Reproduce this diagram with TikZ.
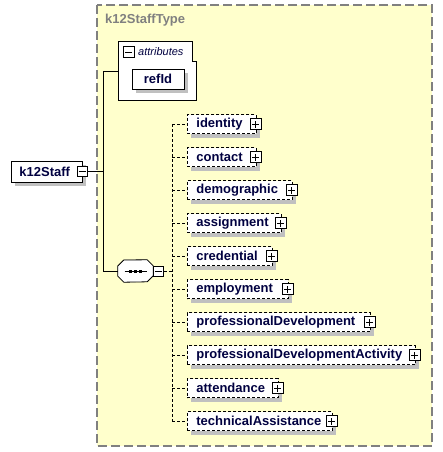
\documentclass[tikz,border=0pt]{standalone}
\usepackage{fontspec}
\setmainfont{Liberation Sans}
\usepackage{tikz}
\usetikzlibrary{positioning,shadows,calc}

\definecolor{typefill}{RGB}{255,255,204}
\definecolor{typeline}{RGB}{128,128,128}
\definecolor{elemtext}{RGB}{0,0,64}
\definecolor{shade}{RGB}{192,192,192}

\tikzset{
    boxshadow/.style={drop shadow={shadow xshift=4pt, shadow yshift=-4pt, fill=shade, opacity=1}},
    elem/.style={draw, fill=white, font=\fontsize{13}{15}\selectfont\bfseries, text=elemtext,
        minimum height=19pt, inner ysep=0pt, line width=0.8pt, boxshadow},
    optelem/.style={elem, dashed, dash pattern=on 3pt off 2pt},
    togglebox/.style={draw, fill=white, minimum size=10pt, inner sep=0pt, line width=0.8pt},
    plusbox/.style={togglebox, path picture={
        \draw[line width=0.8pt] ([xshift=-3.5pt]path picture bounding box.center) -- ([xshift=3.5pt]path picture bounding box.center);
        \draw[line width=0.8pt] ([yshift=-3.5pt]path picture bounding box.center) -- ([yshift=3.5pt]path picture bounding box.center);}},
    minusbox/.style={togglebox, path picture={
        \draw[line width=0.8pt] ([xshift=-3.5pt]path picture bounding box.center) -- ([xshift=3.5pt]path picture bounding box.center);}},
    link/.style={line width=0.8pt},
    optlink/.style={link, dash pattern=on 3pt off 2pt}
}

\begin{document}
\begin{tikzpicture}[x=1pt, y=-1pt]
    \useasboundingbox (0,0) rectangle (443,452);

    % Complex type frame
    \draw[typeline, fill=typefill, line width=2pt, dash pattern=on 9pt off 4pt] (97,5) rectangle (432,446);
    \node[anchor=west, text=typeline, font=\fontsize{13}{15}\selectfont\bfseries, inner sep=0pt] (typename) at (105,20) {k12StaffType};

    % Root element
    \node[elem, anchor=west, minimum height=21pt, inner xsep=8pt, text width=55pt] (root) at (11,171.5) {k12Staff};
    \node[minusbox] (rootminus) at (82,171.5) {};

    % Attributes group
    \node[anchor=north west, minimum width=78pt, minimum height=59pt, inner sep=0pt] (attrs) at (118,41) {};
    \draw[link, fill=white] (attrs.north west) -- ($(attrs.north east)+(-4,0)$) -- ($(attrs.north east)+(-4,20)$)
        -- ($(attrs.north east)+(0,20)$) -- (attrs.south east) -- (attrs.south west) -- cycle;
    \node[minusbox, minimum size=11pt] (attrminus) at (128.5,52) {};
    \node[anchor=west, inner sep=0pt, font=\fontsize{11}{13}\selectfont\itshape, text=elemtext] (attrlabel) at (138,52) {attributes};
    \node[elem, minimum width=52pt, minimum height=20pt] (refId) at (158,79) {refId};

    % Sequence compositor
    \node[minimum width=35pt, minimum height=22pt, inner sep=0pt] (seq) at (135.5,271) {};
    \fill[shade, shift={(4,4)}] (seq.west) -- ++(0,-5) -- ++(6,-6) -- ($(seq.north east)+(-6,0)$) -- ++(6,6) -- ++(0,10)
        -- ++(-6,6) -- ($(seq.south west)+(6,0)$) -- ++(-6,-6) -- cycle;
    \draw[link, fill=white] (seq.west) -- ++(0,-5) -- ++(6,-6) -- ($(seq.north east)+(-6,0)$) -- ++(6,6) -- ++(0,10)
        -- ++(-6,6) -- ($(seq.south west)+(6,0)$) -- ++(-6,-6) -- cycle;
    \draw[link] ($(seq.center)+(-11,0)$) -- ($(seq.center)+(11,0)$);
    \foreach \dx in {-5,0,5}
        \fill ($(seq.center)+(\dx-1.8,-1.5)$) rectangle ++(3.6,3);
    \node[minusbox] (seqminus) at (158.5,271) {};

    % Trunk from root
    \coordinate (trunk) at (103,171.5);
    \draw[link] (rootminus.east) -- (trunk);
    \draw[link] (trunk |- 0,71) -- (trunk |- seq.west);
    \draw[link] (trunk |- 0,71) -- (attrs.west |- 0,71);
    \draw[link] (trunk |- seq.west) -- (seq.west);

    % Child elements
    \foreach \nm/\w [count=\i] in {identity/69, contact/69, demographic/105, assignment/94, credential/85,
        employment/101, professionalDevelopment/183, professionalDevelopmentActivity/228, attendance/91, technicalAssistance/145} {
        \pgfmathsetlengthmacro\tw{\w-18}
        \node[optelem, anchor=west, inner xsep=9pt, text width=\tw] (\nm) at (187,{124+33*(\i-1)}) {\nm};
        \node[plusbox, minimum size=11pt] (\nm-plus) at ($(\nm.east)+(-1,0)$) {};
    }

    % Sequence bus
    \coordinate (bus) at (172,271);
    \draw[optlink] (seqminus.east) -- (bus);
    \draw[optlink] (bus |- identity.west) -- (bus |- technicalAssistance.west);
    \foreach \nm in {identity, contact, demographic, assignment, credential, employment,
        professionalDevelopment, professionalDevelopmentActivity, attendance, technicalAssistance}
        \draw[optlink] (bus |- \nm.west) -- (\nm.west);
\end{tikzpicture}
\end{document}
